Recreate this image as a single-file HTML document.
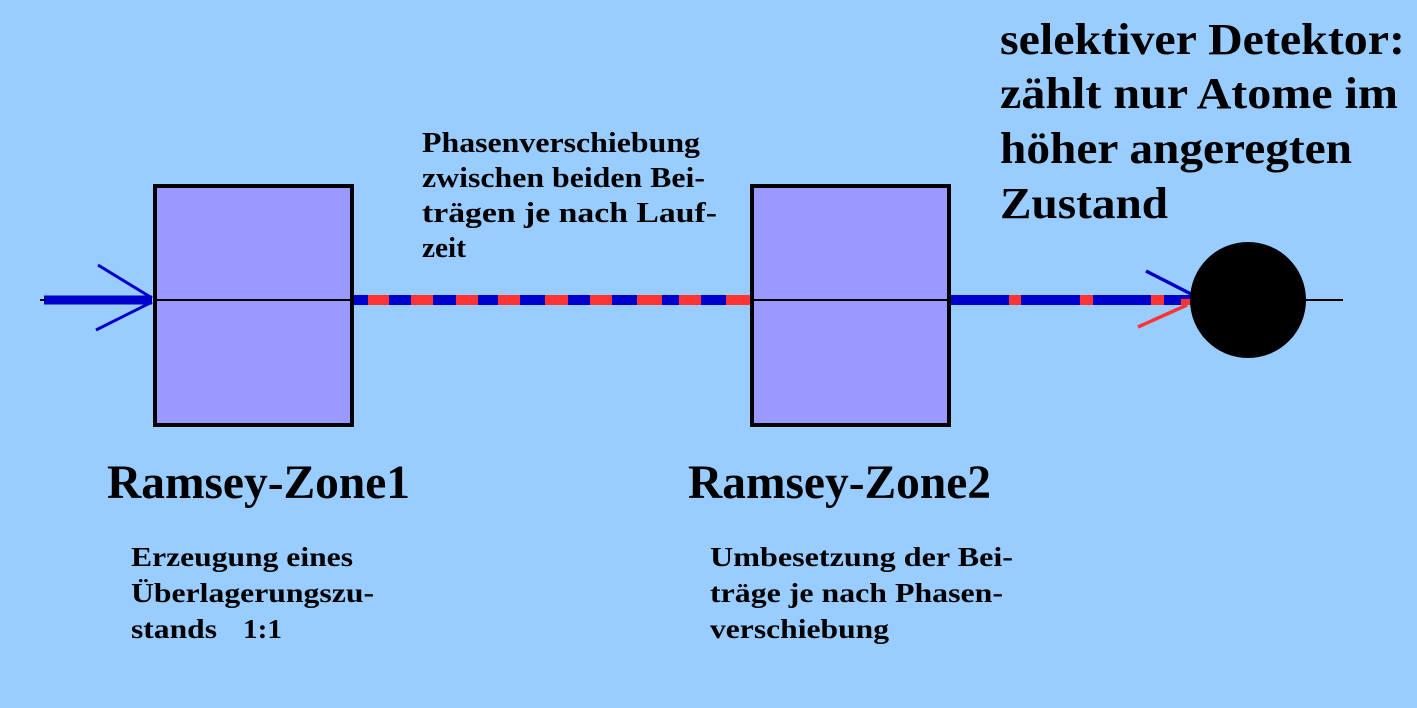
<!DOCTYPE html>
<html><head><meta charset="utf-8"><style>html,body{margin:0;padding:0;background:#99CCFF;}svg{display:block}
text{font-family:"Liberation Serif","Times New Roman",serif;font-weight:bold;}</style></head>
<body>
<svg width="1417" height="708" xmlns="http://www.w3.org/2000/svg" fill="#000">
<rect width="1417" height="708" fill="#99CCFF"/>
<line x1="44" y1="300" x2="152" y2="300" stroke="#0000CC" stroke-width="9"/>
<line x1="98" y1="265" x2="152" y2="298" stroke="#0000CC" stroke-width="3"/>
<line x1="96" y1="330" x2="152" y2="302" stroke="#0000CC" stroke-width="3"/>
<rect x="155" y="186" width="197" height="239" fill="#9999FF" stroke="#000" stroke-width="4"/>
<rect x="752" y="186" width="197" height="239" fill="#9999FF" stroke="#000" stroke-width="4"/>
<g>
<rect x="354" y="295" width="396" height="10" fill="#0000CC"/>
<rect x="368" y="295" width="21" height="10" fill="#FF3333"/>
<rect x="411" y="295" width="22" height="10" fill="#FF3333"/>
<rect x="456" y="295" width="22" height="10" fill="#FF3333"/>
<rect x="498" y="295" width="22" height="10" fill="#FF3333"/>
<rect x="545" y="295" width="23" height="10" fill="#FF3333"/>
<rect x="590" y="295" width="22" height="10" fill="#FF3333"/>
<rect x="637" y="295" width="25" height="10" fill="#FF3333"/>
<rect x="679" y="295" width="22" height="10" fill="#FF3333"/>
<rect x="726" y="295" width="24" height="10" fill="#FF3333"/>
</g>
<rect x="951" y="295" width="240" height="10" fill="#0000CC"/>
<rect x="1009" y="295" width="12" height="10" fill="#FF3333"/>
<rect x="1080" y="295" width="13" height="10" fill="#FF3333"/>
<rect x="1151" y="295" width="13" height="10" fill="#FF3333"/>
<rect x="1181" y="299" width="10" height="6" fill="#FF3333"/>
<line x1="1146" y1="271" x2="1191" y2="294" stroke="#0000CC" stroke-width="3.5"/>
<line x1="1138" y1="327" x2="1187" y2="305" stroke="#FF3333" stroke-width="3.5"/>
<line x1="1300" y1="300" x2="1343" y2="300" stroke="#000" stroke-width="2"/>
<circle cx="1248" cy="300" r="58" fill="#000"/>
<line x1="155" y1="300" x2="352" y2="300" stroke="#000" stroke-width="2"/>
<line x1="752" y1="300" x2="949" y2="300" stroke="#000" stroke-width="2"/>
<line x1="40" y1="300" x2="46" y2="300" stroke="#000" stroke-width="2"/>
<g font-size="44">
<text x="1000" y="54" textLength="405" lengthAdjust="spacingAndGlyphs">selektiver Detektor:</text>
<text x="1000" y="108" textLength="398" lengthAdjust="spacingAndGlyphs">zählt nur Atome im</text>
<text x="1000" y="163" textLength="352" lengthAdjust="spacingAndGlyphs">höher angeregten</text>
<text x="1000" y="218" textLength="168" lengthAdjust="spacingAndGlyphs">Zustand</text>
</g>
<g font-size="48">
<text x="107" y="498" textLength="303" lengthAdjust="spacingAndGlyphs">Ramsey-Zone1</text>
<text x="688" y="498" textLength="303" lengthAdjust="spacingAndGlyphs">Ramsey-Zone2</text>
</g>
<g font-size="29">
<text x="422" y="152" textLength="278" lengthAdjust="spacingAndGlyphs">Phasenverschiebung</text>
<text x="422" y="187" textLength="283" lengthAdjust="spacingAndGlyphs">zwischen beiden Bei-</text>
<text x="422" y="222" textLength="295" lengthAdjust="spacingAndGlyphs">trägen je nach Lauf-</text>
<text x="422" y="257" textLength="44" lengthAdjust="spacingAndGlyphs">zeit</text>
</g>
<g font-size="27">
<text x="131" y="566" textLength="222" lengthAdjust="spacingAndGlyphs">Erzeugung eines</text>
<text x="131" y="602" textLength="243" lengthAdjust="spacingAndGlyphs">Überlagerungszu-</text>
<text x="131" y="638" textLength="86" lengthAdjust="spacingAndGlyphs">stands</text>
<text x="243" y="638" textLength="39" lengthAdjust="spacingAndGlyphs">1:1</text>
<text x="710" y="566" textLength="303" lengthAdjust="spacingAndGlyphs">Umbesetzung der Bei-</text>
<text x="710" y="602" textLength="293" lengthAdjust="spacingAndGlyphs">träge je nach Phasen-</text>
<text x="710" y="638" textLength="179" lengthAdjust="spacingAndGlyphs">verschiebung</text>
</g>
</svg>
</body></html>
